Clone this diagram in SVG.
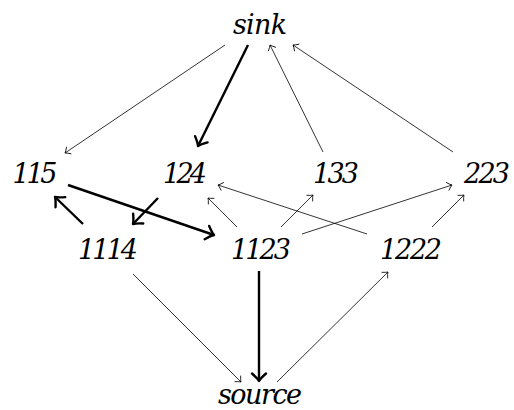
<svg xmlns="http://www.w3.org/2000/svg" width="514" height="410" viewBox="0 0 514 410">
<style>
text{font-family:'DejaVu Serif',serif;font-style:italic;font-size:27px;fill:#000;text-anchor:middle}
.e{stroke:#000;stroke-width:0.8;fill:none;marker-end:url(#a)}
.t{stroke:#000;stroke-width:2.4;fill:none;marker-end:url(#b)}
</style>
<defs>
<marker id="a" markerUnits="userSpaceOnUse" orient="auto" refX="0" refY="0" markerWidth="10" markerHeight="10" overflow="visible">
<path d="M-4.5,-4 Q-1.5,-0.8 0,0 Q-1.5,0.8 -4.5,4" fill="none" stroke="#000" stroke-width="0.8" stroke-linecap="round"/>
</marker>
<marker id="b" markerUnits="userSpaceOnUse" orient="auto" refX="0" refY="0" markerWidth="20" markerHeight="20" overflow="visible">
<path d="M-7.5,-7 Q-2.5,-1.4 0,0 Q-2.5,1.4 -7.5,7" fill="none" stroke="#000" stroke-width="2.4" stroke-linecap="round" stroke-linejoin="round"/>
</marker>
</defs>
<g id="connectors">
<line class="e" x1="225" y1="45" x2="65" y2="153"/>
<line class="t" x1="248" y1="45" x2="198" y2="146"/>
<line class="e" x1="323" y1="152" x2="270" y2="45"/>
<line class="e" x1="453" y1="152" x2="293" y2="45"/>
<line class="t" x1="83" y1="224" x2="55" y2="197"/>
<line class="t" x1="158" y1="198" x2="133" y2="224"/>
<line class="t" x1="68" y1="185" x2="214" y2="235"/>
<line class="e" x1="237" y1="227" x2="208" y2="198"/>
<line class="e" x1="367" y1="234" x2="218" y2="185"/>
<line class="e" x1="281" y1="227" x2="313" y2="195"/>
<line class="e" x1="302" y1="234" x2="452" y2="185"/>
<line class="e" x1="432" y1="227" x2="464" y2="195"/>
<line class="e" x1="133" y1="274" x2="241" y2="382"/>
<line class="t" x1="259" y1="271" x2="259" y2="381"/>
<line class="e" x1="277" y1="382" x2="388" y2="272"/>
</g>
<g id="sink"><text x="260" y="34" textLength="54">sink</text></g>
<g id="n115"><text x="35" y="183" textLength="45">115</text></g>
<g id="n124"><text x="185" y="183" textLength="44">124</text></g>
<g id="n133"><text x="336" y="183" textLength="46">133</text></g>
<g id="n223"><text x="487" y="183" textLength="46">223</text></g>
<g id="n1114"><text x="108" y="259" textLength="60">1114</text></g>
<g id="n1123"><text x="261" y="259" textLength="60">1123</text></g>
<g id="n1222"><text x="411" y="259" textLength="62">1222</text></g>
<g id="source"><text x="260" y="404" textLength="84">source</text></g>
</svg>
